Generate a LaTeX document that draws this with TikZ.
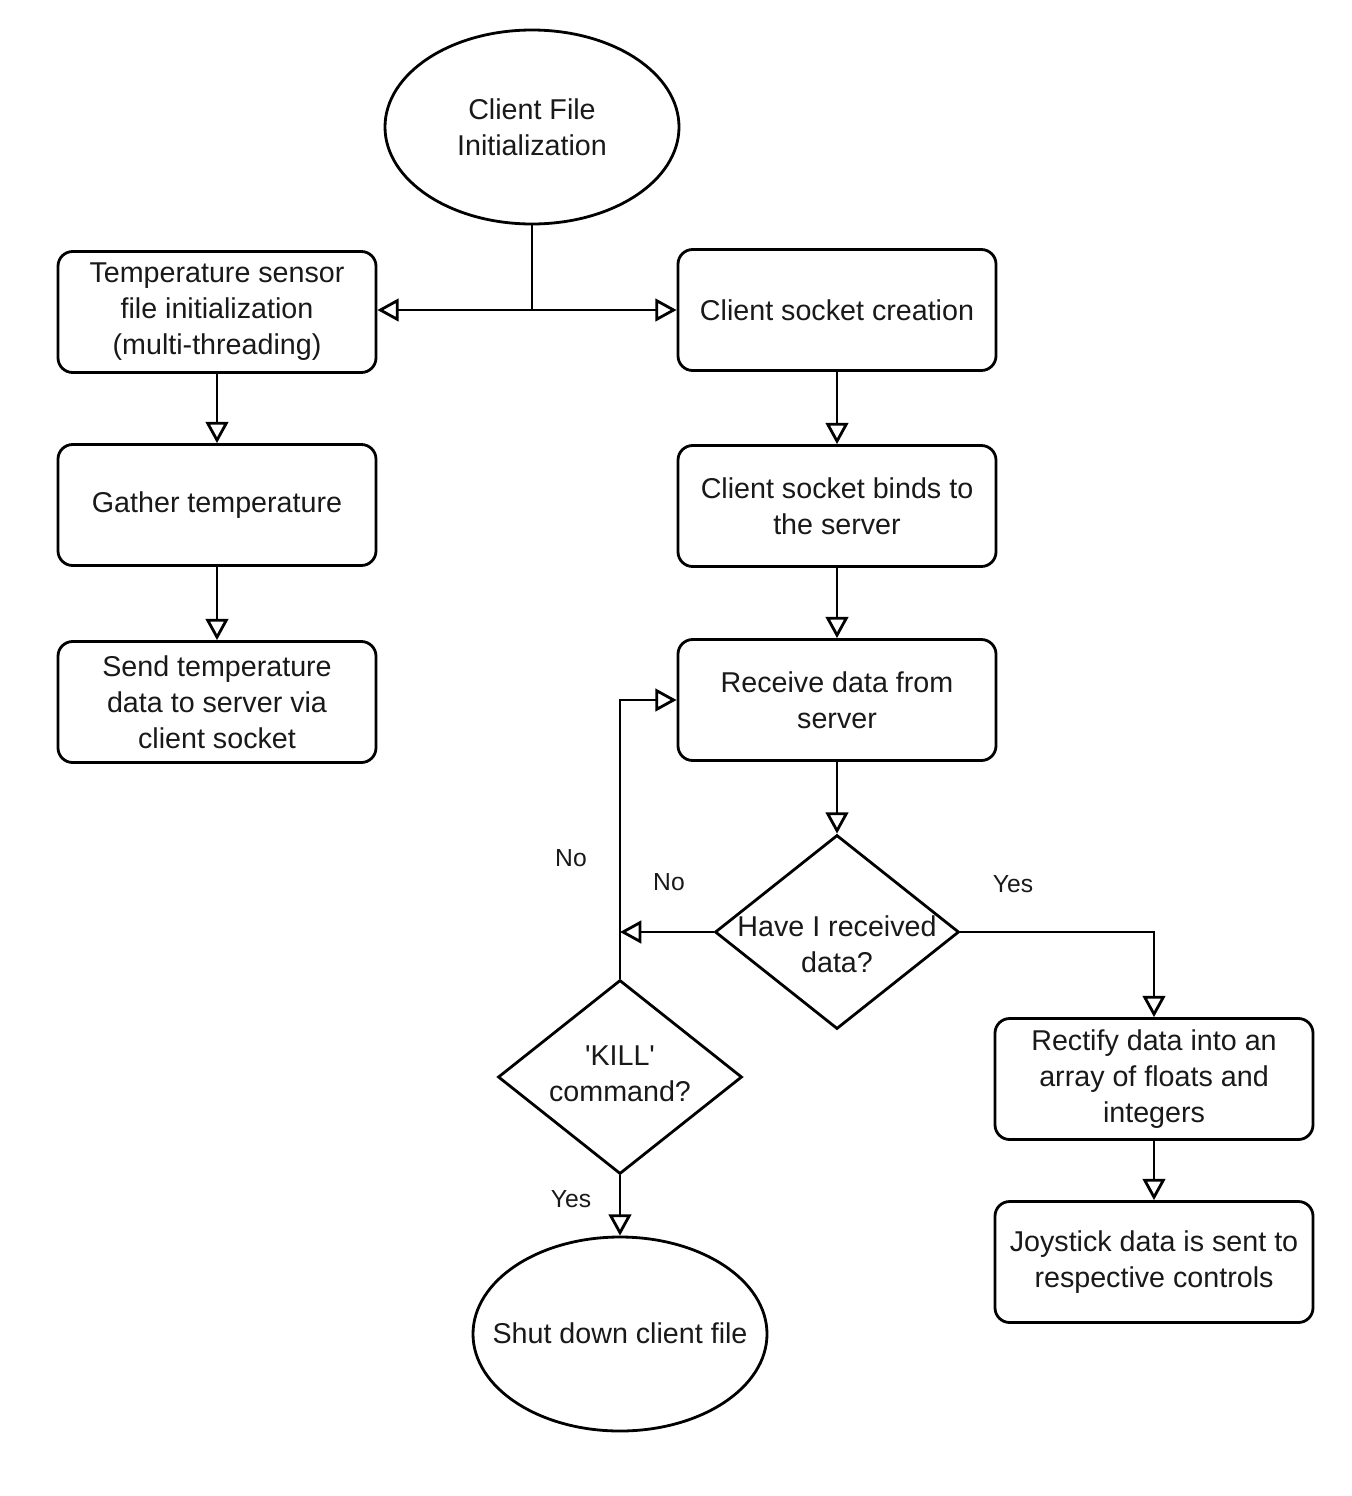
\documentclass[tikz,border=0pt]{standalone}
\usepackage{fontspec}
\setmainfont{Liberation Sans}
\usetikzlibrary{shapes.geometric,arrows.meta}
\tikzset{
  every picture/.style={line width=2.1pt},
  box/.style={draw=black, fill=white, rounded corners=11pt, minimum width=238.5pt, minimum height=90.75pt, inner sep=0pt, align=center, font=\fontsize{21.5pt}{27pt}\selectfont, text=black!90},
  oval/.style={draw=black, fill=white, ellipse, minimum width=220.5pt, minimum height=145.5pt, inner sep=0pt},
  dia/.style={draw=black, fill=white, diamond, minimum width=183pt, minimum height=145.5pt, inner sep=0pt},
  txt/.style={align=center, inner sep=0pt, font=\fontsize{21.5pt}{27pt}\selectfont, text=black!90},
  lbl/.style={inner sep=0pt, font=\fontsize{18.5pt}{22pt}\selectfont, text=black!90},
  arr/.style={-{Triangle[open, length=16pt, width=17pt]}},
}
\begin{document}
\begin{tikzpicture}[x=0.75pt, y=-0.75pt]
\useasboundingbox (0,0) rectangle (1352,1496);
% shapes
\node[oval] (init) at (532,127) {};
\node[txt] (initt) at (532,127) {Client File\\Initialization};
\node[box] (tsens) at (217,312) {Temperature sensor\\file initialization\\(multi-threading)};
\node[box] (gath) at (217,505) {Gather temperature};
\node[box] (send) at (217,702) {Send temperature\\data to server via\\client socket};
\node[box] (sock) at (837,310) {Client socket creation};
\node[box] (bind) at (837,506) {Client socket binds to\\the server};
\node[box] (recv) at (837,700) {Receive data from\\server};
\node[dia] (have) at (837,932) {};
\node[txt] (havet) at (837,944) {Have I received\\data?};
\node[dia] (kill) at (620,1077) {};
\node[txt] (killt) at (620,1074) {\textquotesingle KILL\textquotesingle\\command?};
\node[oval] (shut) at (620,1334) {};
\node[txt] (shutt) at (620,1333) {Shut down client file};
\node[box] (rect) at (1154,1079) {Rectify data into an\\array of floats and\\integers};
\node[box] (joy) at (1154,1262) {Joystick data is sent to\\respective controls};
% connectors
\coordinate (split) at (532,310);
\coordinate (join) at (620,932);
\draw (init.south) -- (split);
\draw[arr] (split) -- (split -| tsens.east);
\draw[arr] (split) -- (sock.west);
\draw[arr] (tsens.south) -- (gath.north);
\draw[arr] (gath.south) -- (send.north);
\draw[arr] (sock.south) -- (bind.north);
\draw[arr] (bind.south) -- (recv.north);
\draw[arr] (recv.south) -- (have.north);
\draw[arr] (have.west) -- (join);
\draw[arr] (kill.north) |- (recv.west);
\draw[arr] (kill.south) -- (shut.north);
\draw[arr] (have.east) -| (rect.north);
\draw[arr] (rect.south) -- (joy.north);
% labels
\node[lbl] (no1) at (571,858) {No};
\node[lbl] (no2) at (669,882) {No};
\node[lbl] (yes1) at (1013,884) {Yes};
\node[lbl] (yes2) at (571,1199) {Yes};
\end{tikzpicture}
\end{document}
